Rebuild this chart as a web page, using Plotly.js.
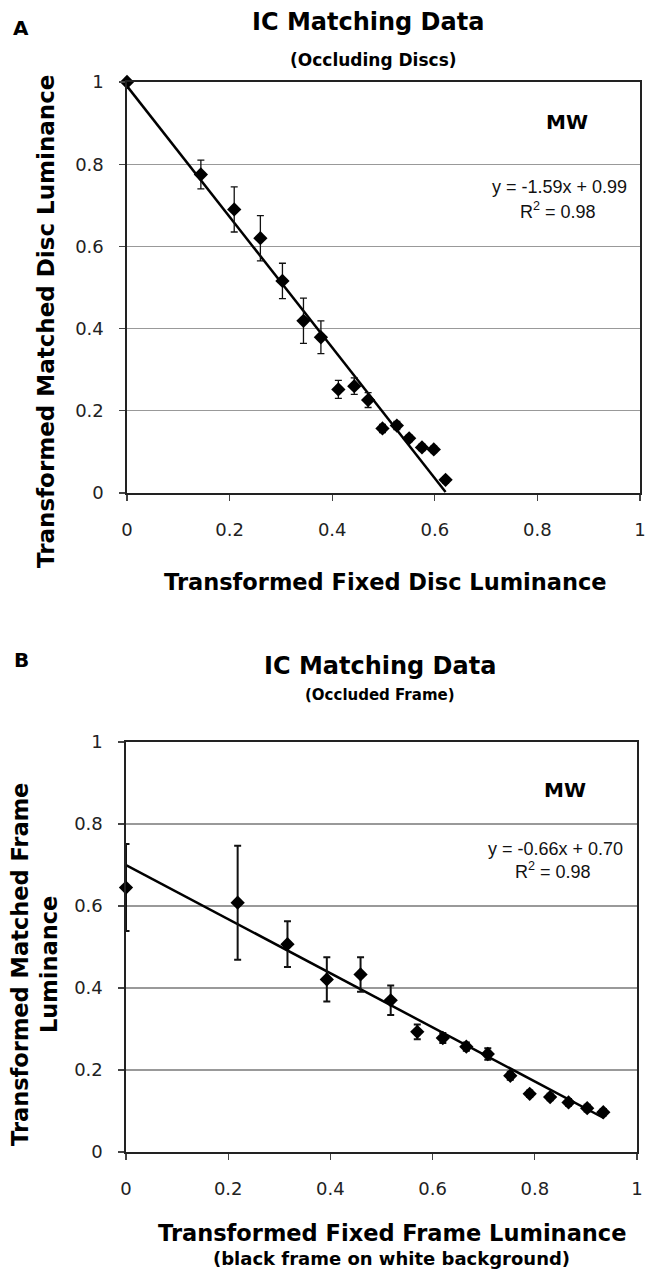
<!DOCTYPE html>
<html>
<head>
<meta charset="utf-8">
<script src="https://cdn.plot.ly/plotly-3.0.1.min.js"></script>
<style>html,body{margin:0;padding:0;background:#fff;}#chart{width:656px;height:1269px;}</style>
</head>
<body>
<div id="chart"></div>
<script>
// ---- Panel A: occluding discs ----
var discFixed   = [0, 0.144, 0.209, 0.260, 0.303, 0.344, 0.378, 0.412, 0.443, 0.470, 0.498, 0.526, 0.550, 0.575, 0.598, 0.621];
var discMatched = [1.0, 0.775, 0.690, 0.620, 0.516, 0.419, 0.379, 0.252, 0.260, 0.226, 0.157, 0.164, 0.133, 0.111, 0.106, 0.032];
var discErr     = [0, 0.035, 0.055, 0.055, 0.043, 0.055, 0.040, 0.022, 0.020, 0.018, 0.010, 0.010, 0.008, 0.008, 0.008, 0.008];
var discSlope = -1.59, discIntercept = 0.99, discR2 = 0.98;

// ---- Panel B: occluded frame ----
var frameFixed   = [0, 0.2185, 0.316, 0.393, 0.459, 0.518, 0.570, 0.620, 0.666, 0.708, 0.752, 0.790, 0.830, 0.866, 0.9025, 0.934];
var frameMatched = [0.645, 0.608, 0.507, 0.421, 0.433, 0.370, 0.293, 0.278, 0.257, 0.239, 0.186, 0.142, 0.134, 0.121, 0.107, 0.097];
var frameErr     = [0.106, 0.139, 0.056, 0.054, 0.042, 0.036, 0.018, 0.012, 0.010, 0.014, 0.010, 0.008, 0.008, 0.008, 0.008, 0.008];
var frameSlope = -0.66, frameIntercept = 0.70, frameR2 = 0.98;

var tickVals = [0, 0.2, 0.4, 0.6, 0.8, 1];
var tickText = ['0', '0.2', '0.4', '0.6', '0.8', '1'];

var W = 656, H = 1269;
function px(x){ return x / W; }
function py(y){ return 1 - y / H; }

function fitLine(xs, m, b, xa, ya){
  var lo = Math.min.apply(null, xs), hi = Math.max.apply(null, xs);
  return {x:[lo, hi], y:[m*lo + b, m*hi + b], mode:'lines', type:'scatter', cliponaxis:false,
          line:{color:'#000', width:2.5}, xaxis:xa, yaxis:ya, hoverinfo:'skip', showlegend:false};
}
function pts(xs, ys, es, xa, ya, thick){
  return {x:xs, y:ys, mode:'markers', type:'scatter', xaxis:xa, yaxis:ya, showlegend:false, cliponaxis:false,
          marker:{symbol:'diamond', size:11, color:'#000'},
          error_y:{type:'data', array:es, visible:true, color:'#111', thickness:thick, width:3.5}};
}

var traces = [
  fitLine(discFixed, discSlope, discIntercept, 'x', 'y'),
  pts(discFixed, discMatched, discErr, 'x', 'y', 1.3),
  fitLine(frameFixed, frameSlope, frameIntercept, 'x2', 'y2'),
  pts(frameFixed, frameMatched, frameErr, 'x2', 'y2', 2)
];

var tickFont = {family:'DejaVu Sans, Verdana, sans-serif', size:18, color:'#222'};
function xax(dom, anchor){
  return {domain:dom, anchor:anchor, range:[0,1], tickvals:tickVals, ticktext:tickText,
          showline:true, linecolor:'#222', linewidth:1.6, mirror:true, showgrid:false, zeroline:false,
          ticks:'outside', ticklen:6, tickcolor:'#444', tickwidth:1.3, tickfont:tickFont, ticklabelstandoff:14, fixedrange:true};
}
function yax(dom, anchor){
  return {domain:dom, anchor:anchor, range:[0,1], tickvals:tickVals, ticktext:tickText,
          showline:true, linecolor:'#222', linewidth:1.6, mirror:true, showgrid:true, gridcolor:'#999', gridwidth:1.3, zeroline:false,
          ticks:'outside', ticklen:6, tickcolor:'#444', tickwidth:1.3, tickfont:tickFont, ticklabelstandoff:12, fixedrange:true};
}

var bold = 'DejaVu Sans, Verdana, sans-serif';
function ann(text, x, y, size, opts){
  var a = {text:text, x:px(x), y:py(y), xref:'paper', yref:'paper', showarrow:false,
           xanchor:'center', yanchor:'middle', font:{family:bold, size:size, color:'#000', weight:700}};
  for (var k in (opts||{})) a[k] = opts[k];
  return a;
}
var eqFont = {family:'Liberation Sans, Arial, sans-serif', size:18, color:'#111'};
function fmt(v){ return v.toFixed(2); }

var layout = {
  width:W, height:H, margin:{l:0, r:0, t:0, b:0}, paper_bgcolor:'#fff', plot_bgcolor:'#fff', showlegend:false,
  xaxis:  xax([127/W, 640/W], 'y'),
  yaxis:  yax([py(493), py(82)], 'x'),
  xaxis2: xax([126/W, 637/W], 'y2'),
  yaxis2: yax([py(1152), py(742)], 'x2'),
  annotations:[
    ann('A', 21, 28, 20),
    ann('IC Matching Data', 368, 22, 24),
    ann('(Occluding Discs)', 373, 60, 17),
    ann('MW', 567, 122, 20),
    {text:'y = ' + fmt(discSlope) + 'x + ' + fmt(discIntercept), x:px(559), y:py(187), xref:'paper', yref:'paper', showarrow:false, xanchor:'center', yanchor:'middle', font:eqFont},
    {text:'R<sup>2</sup> = ' + fmt(discR2), x:px(558), y:py(210), xref:'paper', yref:'paper', showarrow:false, xanchor:'center', yanchor:'middle', font:eqFont},
    ann('Transformed Matched Disc Luminance', 46, 322, 23, {textangle:-90}),
    ann('Transformed Fixed Disc Luminance', 385, 582, 22.5),

    ann('B', 21, 660, 20),
    ann('IC Matching Data', 380, 666, 24),
    ann('(Occluded Frame)', 380, 695, 15),
    ann('MW', 565, 790, 20),
    {text:'y = ' + fmt(frameSlope) + 'x + ' + fmt(frameIntercept), x:px(555), y:py(849), xref:'paper', yref:'paper', showarrow:false, xanchor:'center', yanchor:'middle', font:eqFont},
    {text:'R<sup>2</sup> = ' + fmt(frameR2), x:px(553), y:py(870), xref:'paper', yref:'paper', showarrow:false, xanchor:'center', yanchor:'middle', font:eqFont},
    ann('Transformed Matched Frame<br>Luminance', 34, 965, 22.5, {textangle:-90}),
    ann('Transformed Fixed Frame Luminance', 392, 1233, 22.5),
    ann('(black frame on white background)', 391, 1258, 18)
  ]
};

Plotly.newPlot('chart', traces, layout, {displayModeBar:false, staticPlot:true});
</script>
</body>
</html>
